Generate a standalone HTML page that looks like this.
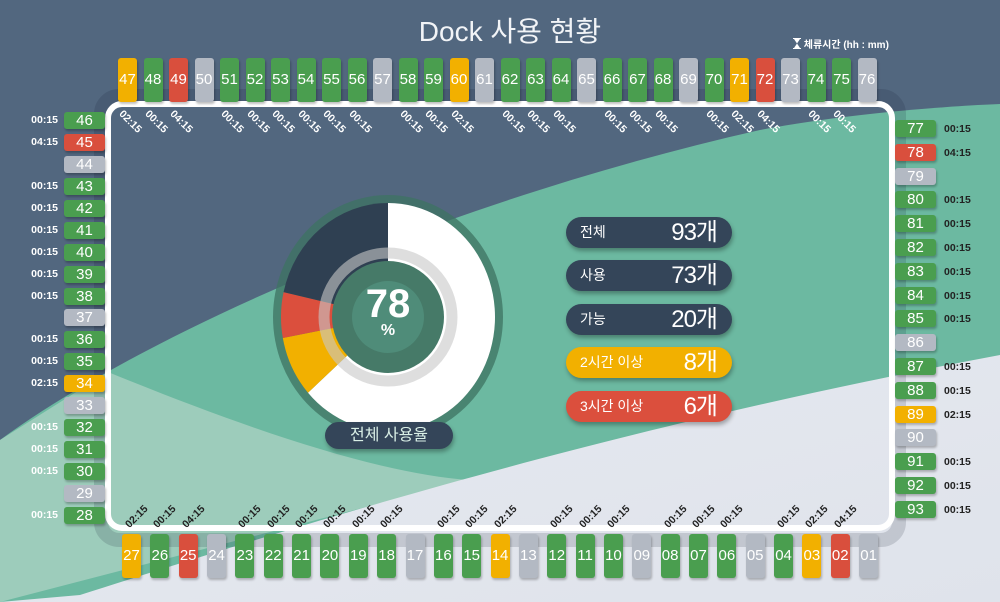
<!DOCTYPE html>
<html><head><meta charset="utf-8"><style>
*{margin:0;padding:0;box-sizing:border-box}
body{width:1000px;height:602px;overflow:hidden;position:relative;font-family:"Liberation Sans","Noto Sans CJK KR",sans-serif;background:#52677f}
#bg{position:absolute;left:0;top:0}
.box{position:absolute;color:#fff;font-size:15px;text-align:center;border-radius:3px;box-shadow:1px 2px 2px rgba(0,0,0,.25)}
.lbl{position:absolute;font-size:10.5px;font-weight:bold;white-space:nowrap}
.pill{position:absolute;left:566px;width:166px;height:31px;border-radius:16px;color:#fff;box-shadow:1px 3px 4px rgba(0,0,0,.3)}
.pill .k{position:absolute;left:14px;top:0;line-height:31px;font-size:14px}
.pill .v{position:absolute;right:15px;top:0;line-height:31px;font-size:24px;letter-spacing:-1px}
</style></head><body>
<svg id="bg" width="1000" height="602">
<defs><linearGradient id="gg" x1="0" y1="0" x2="1" y2="1"><stop offset="0" stop-color="#e6e9f0"/><stop offset="1" stop-color="#dfe3eb"/></linearGradient></defs>
<path d="M0,440 C150,330 450,200 760,130 C850,113 950,106 1000,104 V602 H0 Z" fill="#6cb9a1"/>
<path d="M0,440 L108,372 C250,430 380,474 470,480 L0,602 Z" fill="#9dccbb"/>
<path d="M0,602 L80,595 C300,525 600,430 1000,355 V602 Z" fill="url(#gg)"/>
<rect x="101" y="96" width="798" height="444" rx="18" fill="none" stroke="rgba(20,30,45,0.15)" stroke-width="14"/>
<rect x="108" y="104" width="784" height="424" rx="14" fill="none" stroke="#fff" stroke-width="6"/>
</svg>
<div style="position:absolute;left:380px;top:10px;width:260px;text-align:center;font-size:28px;color:#f2f4f7">Dock 사용 현황</div>
<div style="position:absolute;left:793px;top:36px;font-size:10px;font-weight:bold;color:#fff;white-space:nowrap"><svg width="8" height="11" style="vertical-align:-1px"><path d="M0,0H8V1H7L4,5.5L7,10H8V11H0V10H1L4,5.5L1,1H0Z" fill="#fff"/></svg> 체류시간 (hh : mm)</div>

<svg id="donut" width="1000" height="602" style="position:absolute;left:0;top:0"></svg>
<div style="position:absolute;left:340px;top:282px;width:96px;text-align:center;color:#fff;font-size:40px;font-weight:bold">78</div>
<div style="position:absolute;left:340px;top:322px;width:96px;text-align:center;color:#fff;font-size:16px;font-weight:bold">%</div>
<div style="position:absolute;left:325px;top:422px;width:128px;height:27px;border-radius:14px;background:#344559;color:#d9efe6;font-size:16px;text-align:center;line-height:27px;box-shadow:1px 3px 4px rgba(0,0,0,.3)">전체 사용율</div>

<div class="pill" style="top:217px;background:#344559"><span class="k">전체</span><span class="v">93개</span></div>
<div class="pill" style="top:260px;background:#344559"><span class="k">사용</span><span class="v">73개</span></div>
<div class="pill" style="top:304px;background:#344559"><span class="k">가능</span><span class="v">20개</span></div>
<div class="pill" style="top:347px;background:#f2b000"><span class="k">2시간 이상</span><span class="v">8개</span></div>
<div class="pill" style="top:391px;background:#db4f3d"><span class="k">3시간 이상</span><span class="v">6개</span></div>

<script>
// donut data
const sliceNames=['normal','over-2h','over-3h','idle'];
const sliceValues=[59,8,6,20];
const sliceColors=['#ffffff','#f2b000','#db4f3d','#2f4052'];
// dock statuses: g=in use 00:15, y=02:15, r=04:15, e=empty
const topDocks=[47,48,49,50,51,52,53,54,55,56,57,58,59,60,61,62,63,64,65,66,67,68,69,70,71,72,73,74,75,76];
const topStatus=['y','g','r','e','g','g','g','g','g','g','e','g','g','y','e','g','g','g','e','g','g','g','e','g','y','r','e','g','g','e'];
const bottomDocks=['27','26','25','24','23','22','21','20','19','18','17','16','15','14','13','12','11','10','09','08','07','06','05','04','03','02','01'];
const bottomStatus=['y','g','r','e','g','g','g','g','g','g','e','g','g','y','e','g','g','g','e','g','g','g','e','g','y','r','e'];
const leftDocks=[46,45,44,43,42,41,40,39,38,37,36,35,34,33,32,31,30,29,28];
const leftStatus=['g','r','e','g','g','g','g','g','g','e','g','g','y','e','g','g','g','e','g'];
const rightDocks=[77,78,79,80,81,82,83,84,85,86,87,88,89,90,91,92,93];
const rightStatus=['g','r','e','g','g','g','g','g','g','e','g','g','y','e','g','g','g'];
const statusColor={g:'#4a9e4f',y:'#f2b000',r:'#d94f3d',e:'#b3b9c3'};
const statusTime={g:'00:15',y:'02:15',r:'04:15',e:''};

const NS='http://www.w3.org/2000/svg';
const svg=document.getElementById('donut');
const cx=388,cy=317,rx=107,ry=114;
function mk(t,a){const e=document.createElementNS(NS,t);for(const k in a)e.setAttribute(k,a[k]);svg.appendChild(e);return e;}
const ring=mk('ellipse',{cx:cx,cy:cy,rx:115,ry:122,fill:'rgba(62,115,98,0.75)'});


const total=sliceValues.reduce((a,b)=>a+b,0);
let acc=0;
function pt(a){return [cx+rx*Math.sin(a),cy-ry*Math.cos(a)];}
sliceValues.forEach((v,i)=>{
  const a0=acc/total*2*Math.PI; acc+=v; const a1=acc/total*2*Math.PI;
  const p0=pt(a0),p1=pt(a1);
  const p=mk('path',{d:`M${cx},${cy} L${p0[0]},${p0[1]} A${rx},${ry} 0 ${a1-a0>Math.PI?1:0} 1 ${p1[0]},${p1[1]} Z`,fill:sliceColors[i]});
  
  
});
const g1=mk('circle',{cx:cx,cy:cy,r:64,fill:'none',stroke:'rgba(200,200,200,0.6)','stroke-width':11});


const c1=mk('circle',{cx:cx,cy:cy,r:56,fill:'#467a68'});


const c2=mk('circle',{cx:cx,cy:cy,r:36,fill:'#4f8c79'});



function box(num,st,x,y,w,h){
  const d=document.createElement('div');d.className='box';
  d.style.cssText+=`left:${x}px;top:${y}px;width:${w}px;height:${h}px;line-height:${h}px;background:${statusColor[st]}`;
  d.textContent=num;
  
  
  document.body.appendChild(d);
}
function lbl(st,x,y,color,rot,align){
  if(!statusTime[st])return;
  const d=document.createElement('div');d.className='lbl';
  d.textContent=statusTime[st];
  d.style.left=x+'px';d.style.top=y+'px';d.style.color=color;
  if(rot){d.style.transformOrigin='0 0';d.style.transform='rotate('+rot+'deg)';}
  if(align){d.style.width='50px';d.style.textAlign='right';}
  
  
  document.body.appendChild(d);
}
topDocks.forEach((n,i)=>{const x=118+i*25.5;box(n,topStatus[i],x,58,19,44);lbl(topStatus[i],x+7,108,'#fff',45);});
bottomDocks.forEach((n,i)=>{const x=122+i*28.35;box(n,bottomStatus[i],x,534,19,44);lbl(bottomStatus[i],x+1,522,'#222',-45);});
leftDocks.forEach((n,i)=>{const y=112+i*21.94;box(n,leftStatus[i],64,y,41,17);lbl(leftStatus[i],8,y+2,'#fff',0,true);});
rightDocks.forEach((n,i)=>{const y=120+i*23.8;box(n,rightStatus[i],895,y,41,17);lbl(rightStatus[i],944,y+3,'#222',0);});
</script>
</body></html>
